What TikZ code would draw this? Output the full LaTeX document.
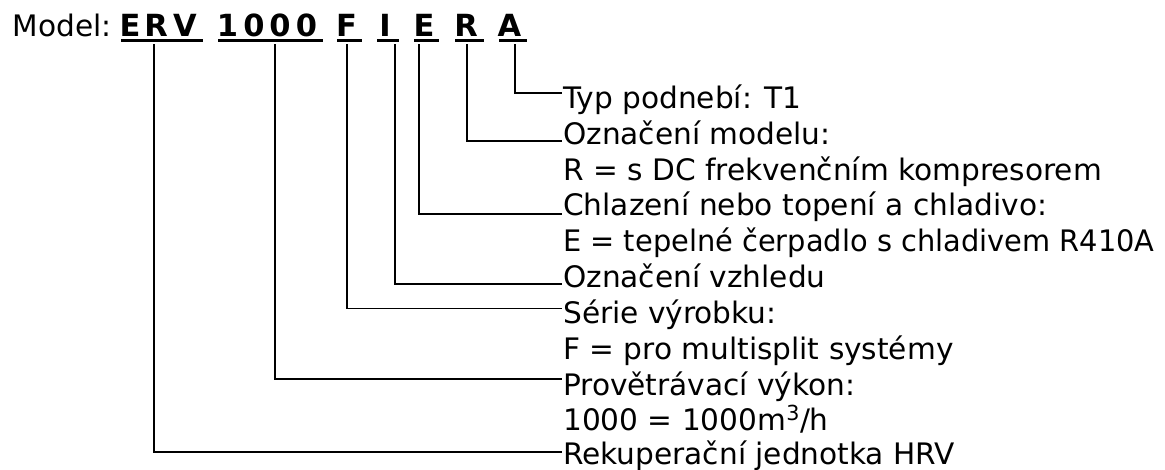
\documentclass[tikz,border=0pt]{standalone}
\usepackage{fontspec}
\usepackage{graphicx}
\setmainfont{DejaVu Sans}
\begin{document}
\begin{tikzpicture}[x=1pt,y=-1pt,
  txt/.style={anchor=base west,inner sep=0pt,font=\fontsize{29.6}{35.6}\selectfont},
  code/.style={anchor=base,inner sep=0pt,font=\fontsize{30.5}{35.6}\selectfont\bfseries},
  uline/.style={line width=2.6pt},
  conn/.style={line width=1.8pt}]
\useasboundingbox (0,0) rectangle (1165,469);
% header
\node[txt] (model) at (12.7,36.7) {Model:};
\foreach \c/\x/\n in {E/130/c1,R/156/c2,V/185/c3,1/227.5/c4,0/254/c5,0/280/c6,0/306.5/c7,F/346.5/c8,I/385/c9,E/424/c10,R/466/c11,A/509.5/c12}
  \node[code] (\n) at (\x,36.7) {\c};
% underlines
\coordinate (uERVa) at (121,40.7); \coordinate (uERVb) at (203,40.7);
\coordinate (u1000a) at (218,40.7); \coordinate (u1000b) at (323,40.7);
\coordinate (uFa) at (337,40.7); \coordinate (uFb) at (362,40.7);
\coordinate (uIa) at (377,40.7); \coordinate (uIb) at (399,40.7);
\coordinate (uEa) at (414,40.7); \coordinate (uEb) at (439,40.7);
\coordinate (uRa) at (455,40.7); \coordinate (uRb) at (484,40.7);
\coordinate (uAa) at (499,40.7); \coordinate (uAb) at (527,40.7);
\foreach \u in {ERV,1000,F,I,E,R,A}
  \draw[uline] (u\u a) -- (u\u b);
% descriptions
\node[txt] (tA) at (563,108) {Typ podnebí: T1};
\node[txt] (tR) at (563,144) {Označení modelu:};
\node[txt] (tR2) at (563,180) {R = s DC frekvenčním kompresorem};
\node[txt] (tE) at (563,215.5) {Chlazení nebo topení a chladivo:};
\node[txt] (tE2) at (563,251.5) {\scalebox{0.975}[1]{E = tepelné čerpadlo s chladivem R410A}};
\node[txt] (tI) at (563,287) {Označení vzhledu};
\node[txt] (tF) at (563,323.5) {Série výrobku:};
\node[txt] (tF2) at (563,359) {F = pro multisplit systémy};
\node[txt] (t1000) at (563,395) {Provětrávací výkon:};
\node[txt] (t10002) at (563,430) {1000 = 1000m\textsuperscript{3}/h};
\node[txt] (tERV) at (563,464) {Rekuperační jednotka HRV};
% connector starts and ends
\coordinate (sERV) at (154.3,44); \coordinate (eERV) at (562,452.3);
\coordinate (s1000) at (275,44); \coordinate (e1000) at (562,379);
\coordinate (sF) at (346.7,44); \coordinate (eF) at (562,308.5);
\coordinate (sI) at (395,44); \coordinate (eI) at (562,284);
\coordinate (sE) at (419,44); \coordinate (eE) at (562,214);
\coordinate (sR) at (466.7,44); \coordinate (eR) at (562,141);
\coordinate (sA) at (515,44); \coordinate (eA) at (562,92.7);
\foreach \k in {ERV,1000,F,I,E,R,A}
  \draw[conn] (s\k) |- (e\k);
\end{tikzpicture}
\end{document}
